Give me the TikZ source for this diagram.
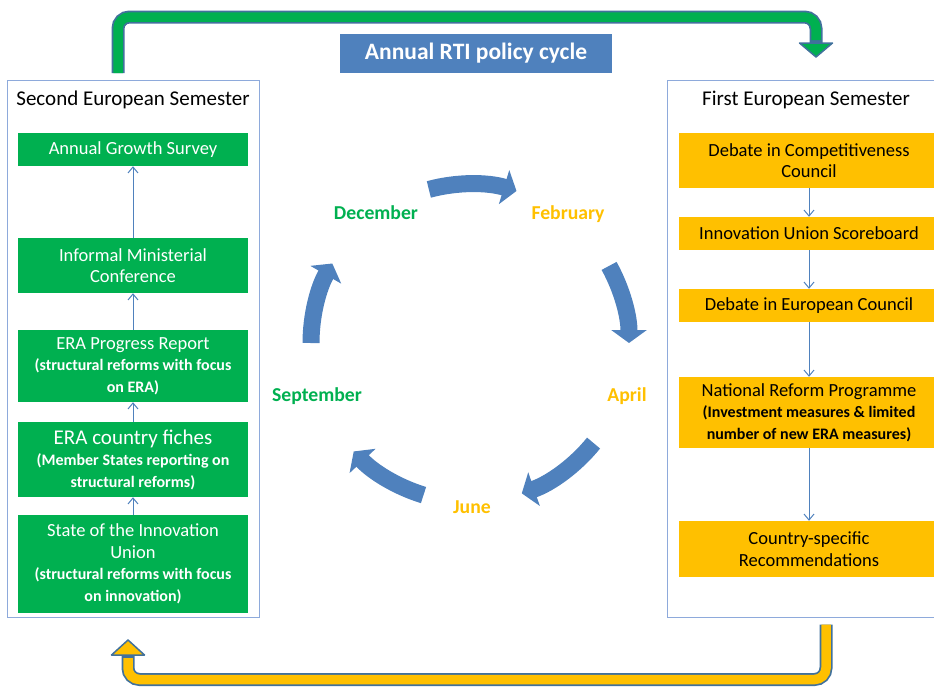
\documentclass[tikz,border=0pt]{standalone}
\usepackage{fontspec}
\setmainfont{Carlito}
\usetikzlibrary{arrows.meta,positioning}

\definecolor{semgreen}{HTML}{00B050}
\definecolor{semorange}{HTML}{FFC000}
\definecolor{cycblue}{HTML}{4F81BD}
\definecolor{rimblue}{HTML}{41719C}
\definecolor{frameblue}{HTML}{8EAADB}

\newcommand\boxfont{\fontsize{18.5}{21.5}\selectfont}
\newcommand\notefont{\bfseries\fontsize{16}{19.5}\selectfont}

\begin{document}
\begin{tikzpicture}[
   x=1pt,y=-1pt,
   every node/.style={inner sep=0pt},
   greenbox/.style={fill=semgreen,text=white,minimum width=230pt,align=center,font=\boxfont},
   orangebox/.style={fill=semorange,text=black,minimum width=260pt,align=center,font=\boxfont},
   panel/.style={draw=frameblue,line width=1pt},
   paneltitle/.style={anchor=base,font=\fontsize{21}{24}\selectfont},
   flow/.style={draw=cycblue,line width=1pt,-{Straight Barb[length=6pt,width=10pt]}},
   turn/.style={draw=cycblue,line width=17pt,-{Triangle[length=13pt,width=35pt]}},
   month/.style={anchor=base,font=\bfseries\fontsize{19.7}{22}\selectfont},
   rim/.style={draw=rimblue,line width=13pt,rounded corners=11.5pt},
   core/.style={line width=9.5pt,rounded corners=11.5pt}
 ]
  \useasboundingbox (0,0) rectangle (934,689);
  \clip (0,0) rectangle (934,689);

  % Heading of the whole cycle.
  \node[fill=cycblue,text=white,minimum width=272pt,minimum height=38.5pt,
        font=\bfseries\fontsize{23.5}{26}\selectfont] (cycletitle) at (476,53.5)
    {Annual RTI policy cycle};

  % Second semester: steps run bottom to top.
  \draw[panel] (7.5,80.5) rectangle (259,617);
  \node[paneltitle] (secondtitle) at (133,105) {Second European Semester};
  \node[greenbox,minimum height=33pt] (ags) at (133,149.5) {Annual Growth Survey};
  \node[greenbox,minimum height=55pt] (imc) at (133,265.5)
    {Informal Ministerial\\Conference};
  \node[greenbox,minimum height=72pt] (epr) at (133,366)
    {ERA Progress Report\\\notefont(structural reforms with focus\\\notefont on ERA)};
  \node[greenbox,minimum height=75pt] (ecf) at (133,459.5)
    {\fontsize{21}{22}\selectfont ERA country fiches\\\notefont(Member States reporting on\\\notefont structural reforms)};
  \node[greenbox,minimum height=98pt] (siu) at (133,564)
    {State of the Innovation\\Union\\\notefont(structural reforms with focus\\\notefont on innovation)};
  \draw[flow] (imc.north) -- (ags.south);
  \draw[flow] (epr.north) -- (imc.south);
  \draw[flow] (ecf.north) -- (epr.south);
  \draw[flow] (siu.north) -- (ecf.south);

  % First semester: steps run top to bottom.
  \draw[panel] (667,80.5) rectangle (950,617);
  \node[paneltitle] (firsttitle) at (806,105) {First European Semester};
  \node[orangebox,minimum height=55pt] (dcc) at (809,160.5)
    {Debate in Competitiveness\\Council};
  \node[orangebox,minimum height=33pt] (ius) at (809,233.5) {Innovation Union Scoreboard};
  \node[orangebox,minimum height=33pt] (dec) at (809,305.5) {Debate in European Council};
  \node[orangebox,minimum height=71pt] (nrp) at (809,412.5)
    {National Reform Programme\\\notefont(Investment measures \& limited\\\notefont number of new ERA measures)};
  \node[orangebox,minimum height=56pt] (csr) at (809,549)
    {Country-specific\\Recommendations};
  \draw[flow] (dcc.south) -- (ius.north);
  \draw[flow] (ius.south) -- (dec.north);
  \draw[flow] (dec.south) -- (nrp.north);
  \draw[flow] (nrp.south) -- (csr.north);

  % Months around the wheel.
  \coordinate (hub) at (470,343);
  \draw[turn] ([shift={(-105:159)}]hub) arc[start angle=-105,end angle=-73,radius=159];
  \draw[turn] ([shift={(-29:159)}]hub) arc[start angle=-29,end angle=0,radius=159];
  \draw[turn] ([shift={(39:159)}]hub) arc[start angle=39,end angle=71,radius=159];
  \draw[turn] ([shift={(107:159)}]hub) arc[start angle=107,end angle=137,radius=159];
  \draw[turn] ([shift={(-180:159)}]hub) arc[start angle=-180,end angle=-150,radius=159];
  \node[month,text=semgreen] (dece) at (376,219) {December};
  \node[month,text=semorange] (febr) at (568,219) {February};
  \node[month,text=semorange] (apri) at (627,401) {April};
  \node[month,text=semorange] (june) at (472,513) {June};
  \node[month,text=semgreen] (sept) at (317,401) {September};

  % Hand-over from the second semester to the first (top) ...
  \coordinate (gstart) at (118,73);
  \coordinate (gend) at (816,43);
  \draw[rim] (gstart) -- (118,17) -- (816,17) -- (gend);
  \draw[fill=semgreen,draw=rimblue,line width=1.5pt,line join=round]
    (799.5,43) -- (832.5,43) -- (816,57) -- cycle;
  \draw[core,semgreen] (gstart) -- (118,17) -- (816,17) -- ([yshift=3]gend);

  % ... and back again (bottom).
  \coordinate (ystart) at (826,624.5);
  \coordinate (yend) at (128,655);
  \draw[rim] (ystart) -- (826,679.5) -- (128,679.5) -- (yend);
  \draw[fill=semorange,draw=rimblue,line width=1.5pt,line join=round]
    (111.5,655) -- (144.5,655) -- (128,640) -- cycle;
  \draw[core,semorange] (ystart) -- (826,679.5) -- (128,679.5) -- ([yshift=-3]yend);
\end{tikzpicture}
\end{document}
